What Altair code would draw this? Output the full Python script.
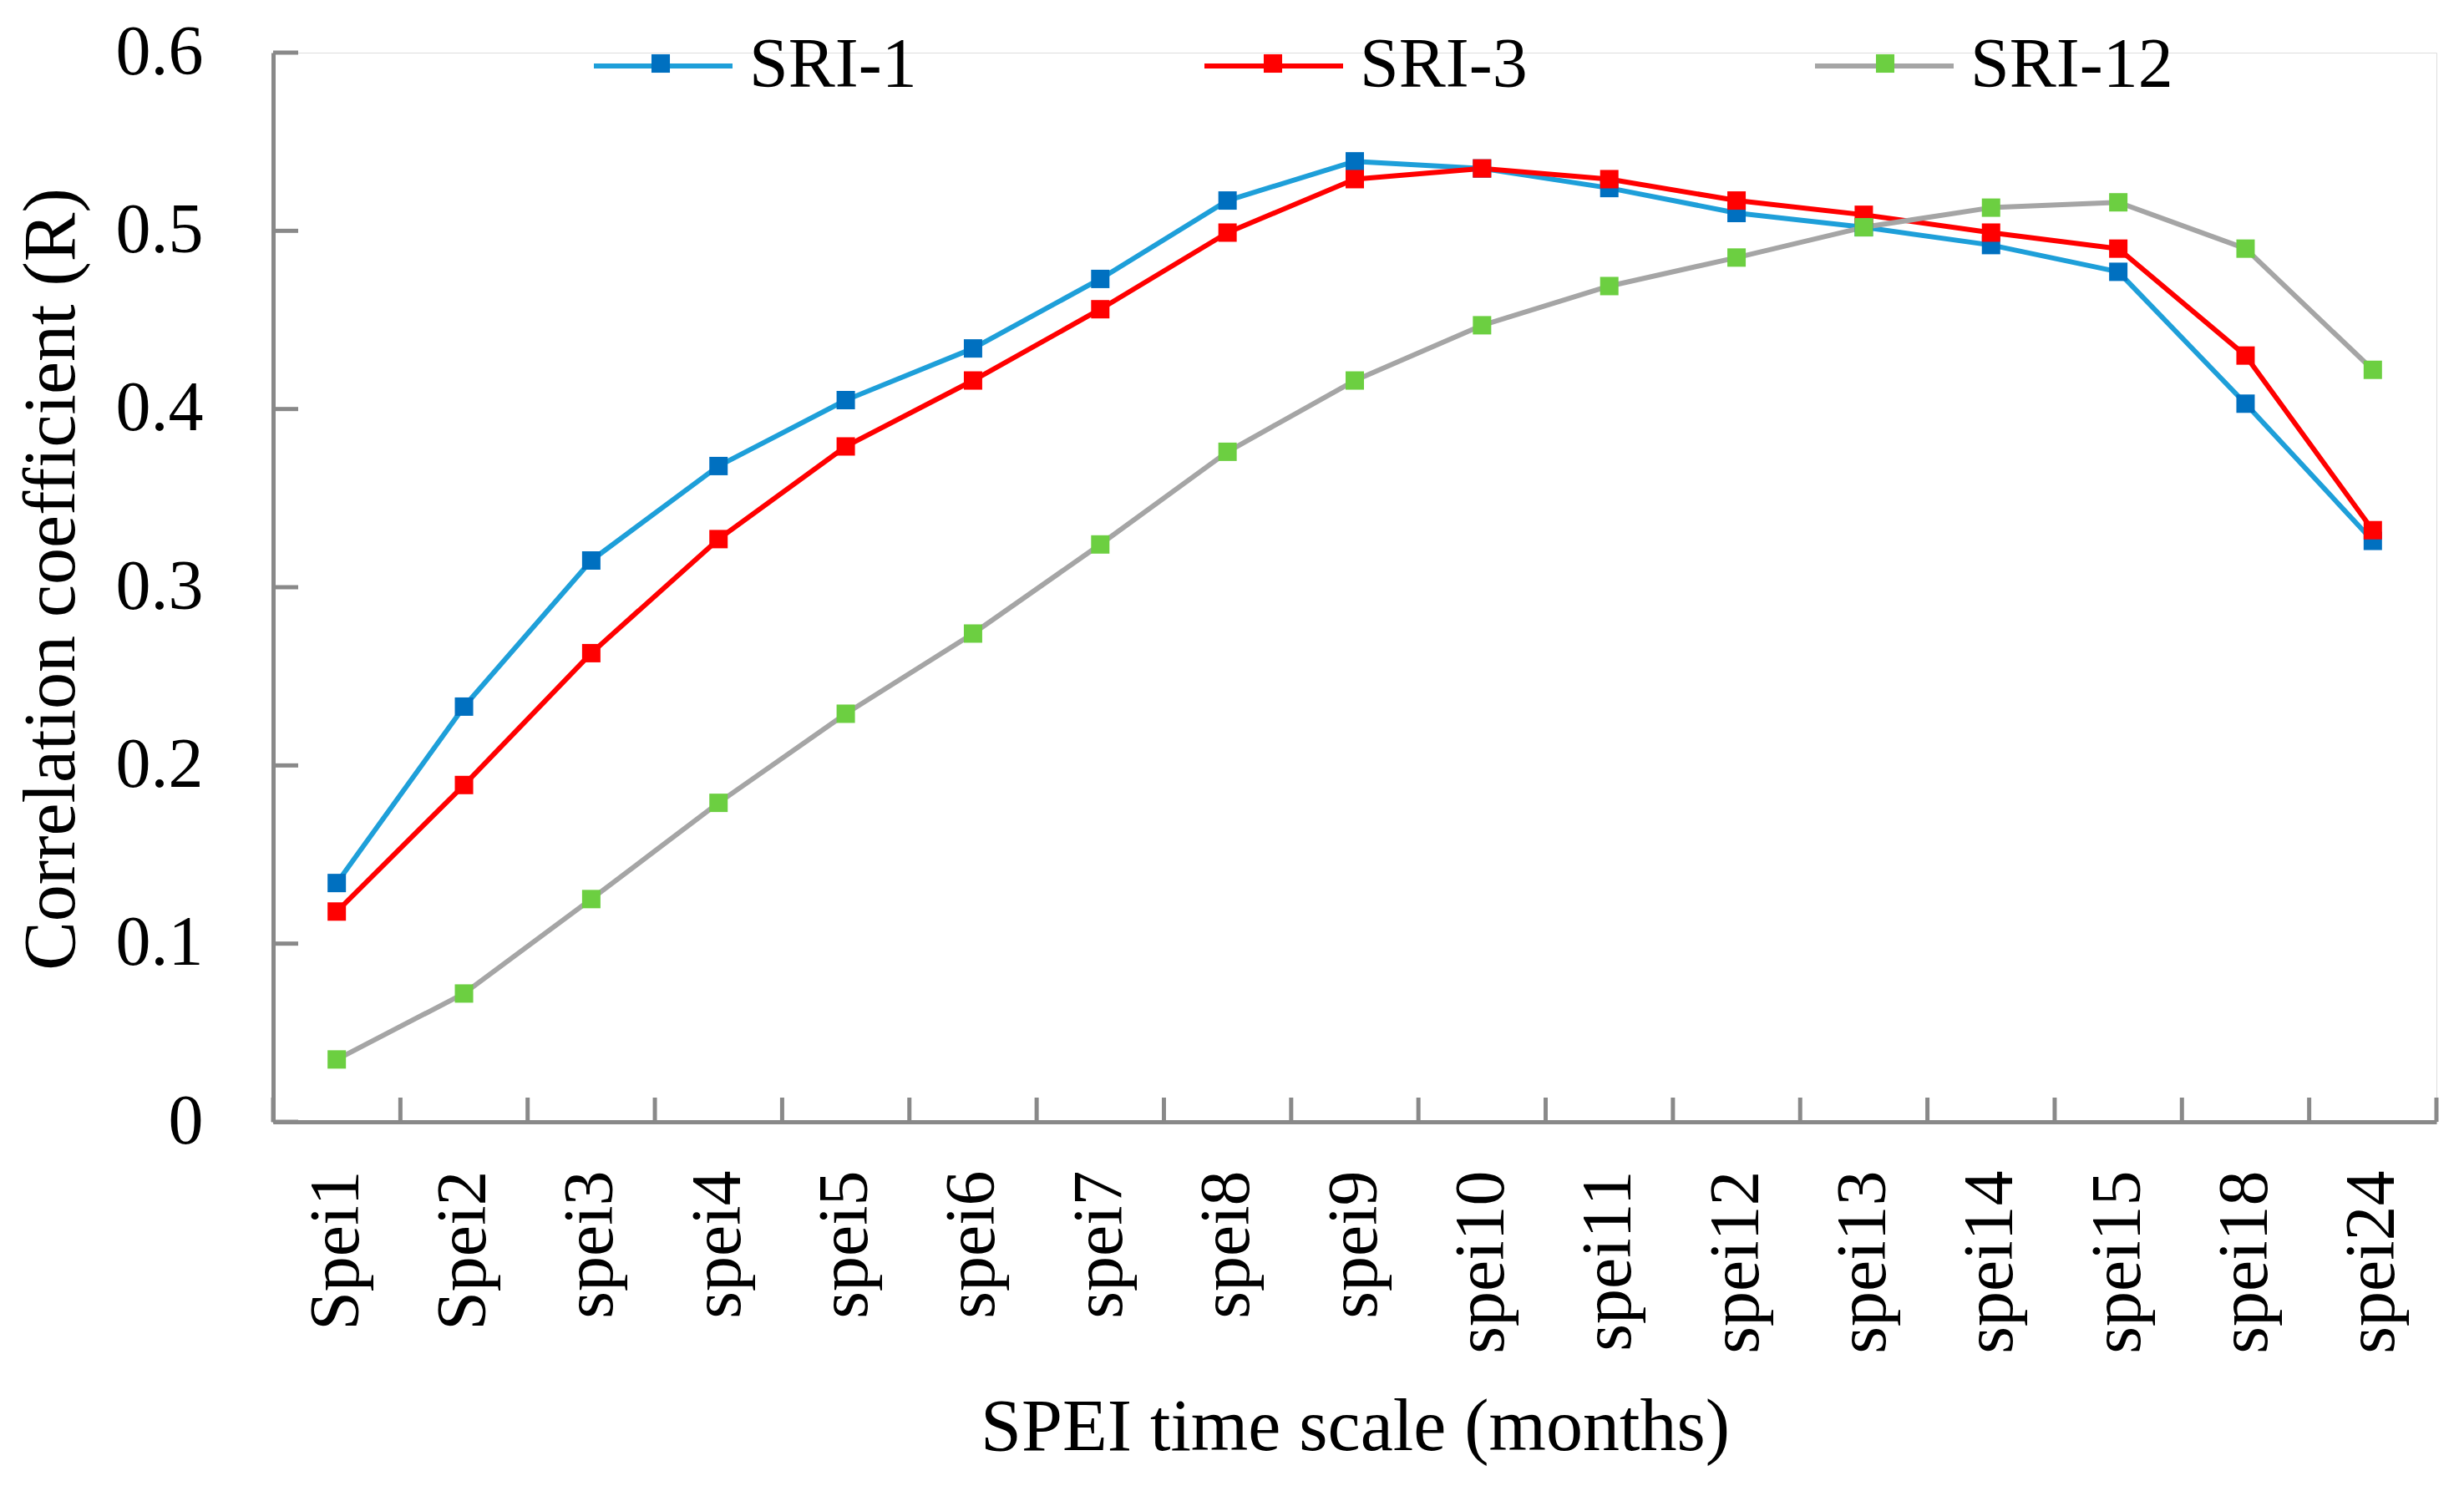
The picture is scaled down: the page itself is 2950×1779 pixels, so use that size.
import altair as alt
import pandas as pd

categories = ["Spei1", "Spei2", "spei3", "spei4", "spei5", "spei6", "spei7", "spei8",
              "spei9", "spei10", "spei11", "spei12", "spei13", "spei14", "spei15",
              "spei18", "spei24"]
series_names = ["SRI-1", "SRI-3", "SRI-12"]
sri1 = [0.134, 0.233, 0.315, 0.368, 0.405, 0.434, 0.473, 0.517, 0.539, 0.535,
        0.524, 0.510, 0.502, 0.492, 0.477, 0.403, 0.326]
sri3 = [0.118, 0.189, 0.263, 0.327, 0.379, 0.416, 0.456, 0.499, 0.529, 0.535,
        0.529, 0.517, 0.509, 0.499, 0.490, 0.430, 0.332]
sri12 = [0.035, 0.072, 0.125, 0.179, 0.229, 0.274, 0.324, 0.376, 0.416, 0.447,
         0.469, 0.485, 0.502, 0.513, 0.516, 0.490, 0.422]
y_ticks = [0.0, 0.1, 0.2, 0.3, 0.4, 0.5, 0.6]
line_colors = ["#1E9FD9", "#FF0000", "#A5A5A5"]
marker_colors = ["#0070C0", "#FF0000", "#6CCF41"]

W, H = 2590, 1280
FONT = "Liberation Serif"
AXIS_GRAY = "#898989"

rows = []
for k, (name, vals) in enumerate(zip(series_names, [sri1, sri3, sri12])):
    for i, v in enumerate(vals):
        rows.append({"series": name, "idx": i, "value": v, "order": k})
df = pd.DataFrame(rows)

n = len(categories)
x_dom = [-0.5, n - 0.5]
boundaries = pd.DataFrame({"b": [i - 0.5 for i in range(n + 1)]})
yticks_df = pd.DataFrame({"v": y_ticks})

label_js = "[" + ",".join("'" + c + "'" for c in categories) + "][datum.value]"

x_axis = alt.Axis(values=list(range(n)), labelExpr=label_js, labelAngle=270,
                  labelPadding=58, labelLimit=2000, ticks=False, grid=False,
                  domainColor=AXIS_GRAY, domainWidth=5,
                  labelFont=FONT, labelFontSize=84, labelColor="black",
                  title="SPEI time scale (months)", titleFont=FONT, titleFontSize=88,
                  titleFontWeight="normal", titleColor="black",
                  titleX=W / 2, titleY=392, titleBaseline="alphabetic", titleAlign="center")
y_axis = alt.Axis(values=y_ticks, format=".1~f", ticks=False, grid=False,
                  domainColor=AXIS_GRAY, domainWidth=5, labelPadding=84, labelLimit=2000,
                  labelFont=FONT, labelFontSize=84, labelColor="black",
                  title="Correlation coefficient (R)", titleFont=FONT, titleFontSize=88,
                  titleFontWeight="normal", titleColor="black", titleAngle=270,
                  titleX=-239, titleY=630, titleBaseline="alphabetic", titleAlign="center",
                  titleLimit=3000)

x_scale = alt.Scale(domain=x_dom, nice=False, zero=False)
y_scale = alt.Scale(domain=[0, 0.6], nice=False, zero=False)


def X(field):
    return alt.X(field, type="quantitative", scale=x_scale, axis=x_axis)


def Y(field):
    return alt.Y(field, type="quantitative", scale=y_scale, axis=y_axis)


LEG_X = 381
LEG_Y = -70
common_leg = dict(orient="none", legendX=LEG_X, legendY=LEG_Y, direction="horizontal",
                  title=None, padding=0, labelFont=FONT, labelFontSize=84,
                  labelColor="black", labelOffset=17,
                  labelLimit=2000, symbolSize=166 * 166)

lines = alt.Chart(df).mark_line(strokeWidth=6, strokeCap="round", strokeJoin="round").encode(
    x=X("idx"), y=Y("value"),
    color=alt.Color("series:N", scale=alt.Scale(domain=series_names, range=line_colors),
                    legend=alt.Legend(symbolType="stroke", symbolStrokeWidth=6,
                                      columnPadding=332, zindex=1, **common_leg)),
    order="idx:Q",
)

points = alt.Chart(df).mark_square(size=484, opacity=1, strokeWidth=0).encode(
    x=X("idx"), y=Y("value"),
    fill=alt.Fill("series:N", sort=series_names, scale=alt.Scale(range=marker_colors),
                  legend=alt.Legend(symbolType="M-0.133,-0.133L0.133,-0.133L0.133,0.133L-0.133,0.133Z",
                                    symbolStrokeWidth=0, labelExpr="''",
                                    columnPadding=550, zindex=2, **common_leg)),
    order="order:Q",
)

yt = alt.Chart(yticks_df).mark_rule(color=AXIS_GRAY, strokeWidth=5).encode(
    y=Y("v"), x=alt.value(0), x2=alt.value(30))
xt = alt.Chart(boundaries).mark_rule(color=AXIS_GRAY, strokeWidth=5).encode(
    x=X("b"), y=alt.value(H - 29), y2=alt.value(H))

chart = alt.layer(lines, yt, xt, points).properties(
    width=W, height=H,
    autosize=alt.AutoSizeParams(type="none"),
    padding={"left": 319, "top": 55, "right": 20, "bottom": 430},
).configure_view(stroke=None).configure(background="white")

chart.save("out.html", embed_options={"renderer": "svg", "actions": False})
